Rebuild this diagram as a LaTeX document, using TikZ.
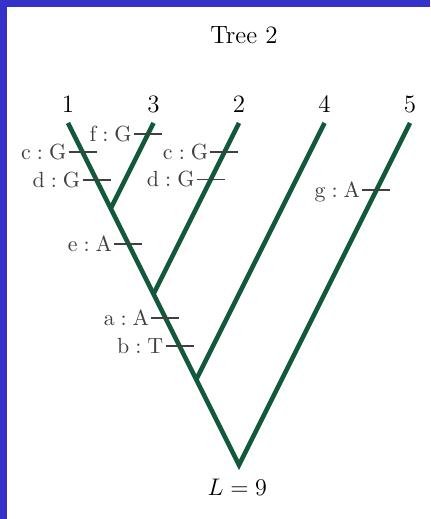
\documentclass[tikz,border=0pt]{standalone}
\usepackage{tikz}
\usetikzlibrary{calc}
\definecolor{branchgreen}{RGB}{18,88,58}
\definecolor{frameblue}{RGB}{52,50,200}

\begin{document}
\begin{tikzpicture}[x=42.75pt, y=42.75pt, every node/.style={font=\fontsize{12.5}{15}\selectfont},
	branch/.style={branchgreen, line width=2.3pt, line join=miter},
	tick/.style={black!75, line width=0.7pt},
	mut/.style={anchor=base east, inner sep=0.8pt, yshift=-3.7pt, font=\fontsize{11}{13}\selectfont}]
	\useasboundingbox (-2.7953,-0.6316) rectangle (2.2339,5.4386);
	\fill[white] (-2.7953,-0.6316) rectangle (2.2339,5.4386);
	\fill[frameblue] (-2.7953,-0.6316) rectangle (-2.7134,5.4386);
	\fill[frameblue] (-2.7953,5.357) rectangle (2.2339,5.4386);
	\node[anchor=base] (title) at (0.058,4.924) {Tree 2};
	\foreach \lab [count=\i] in {1,3,2,4,5} {
		\coordinate (t\lab) at (\i-3,4);
		\node[anchor=base] (l\lab) at ([yshift=5pt]t\lab) {\lab};
	}
	\coordinate (n13) at (-1.5,3);
	\coordinate (n132) at (-1,2);
	\coordinate (n1324) at (-0.5,1);
	\coordinate (root) at (0,0);
	\draw[branch] (t1) -- (n13) -- (n132) -- (n1324) -- (root) -- (t5);
	\draw[branch] (t3) -- (n13);
	\draw[branch] (t2) -- (n132);
	\draw[branch] (t4) -- (n1324);
	\foreach \a/\b/\f/\s/\c [count=\k] in {t1/n13/0.34/c/G, t1/n13/0.667/d/G, t3/n13/0.13/f/G,
		t2/n132/0.17/c/G, t2/n132/0.33/d/G, n13/n132/0.415/e/A,
		n132/n1324/0.28/a/A, n132/n1324/0.61/b/T, t5/root/0.196/g/A} {
		\coordinate (m\k) at ($(\a)!\f!(\b)$);
		\draw[tick] ([xshift=-7pt]m\k) node[mut] (ml\k) {$\mathrm{\s}:\mathrm{\c}$} -- ([xshift=7pt]m\k);
	}
	\node (score) at (-0.02,-0.263) {$L=9$};
\end{tikzpicture}
\end{document}
